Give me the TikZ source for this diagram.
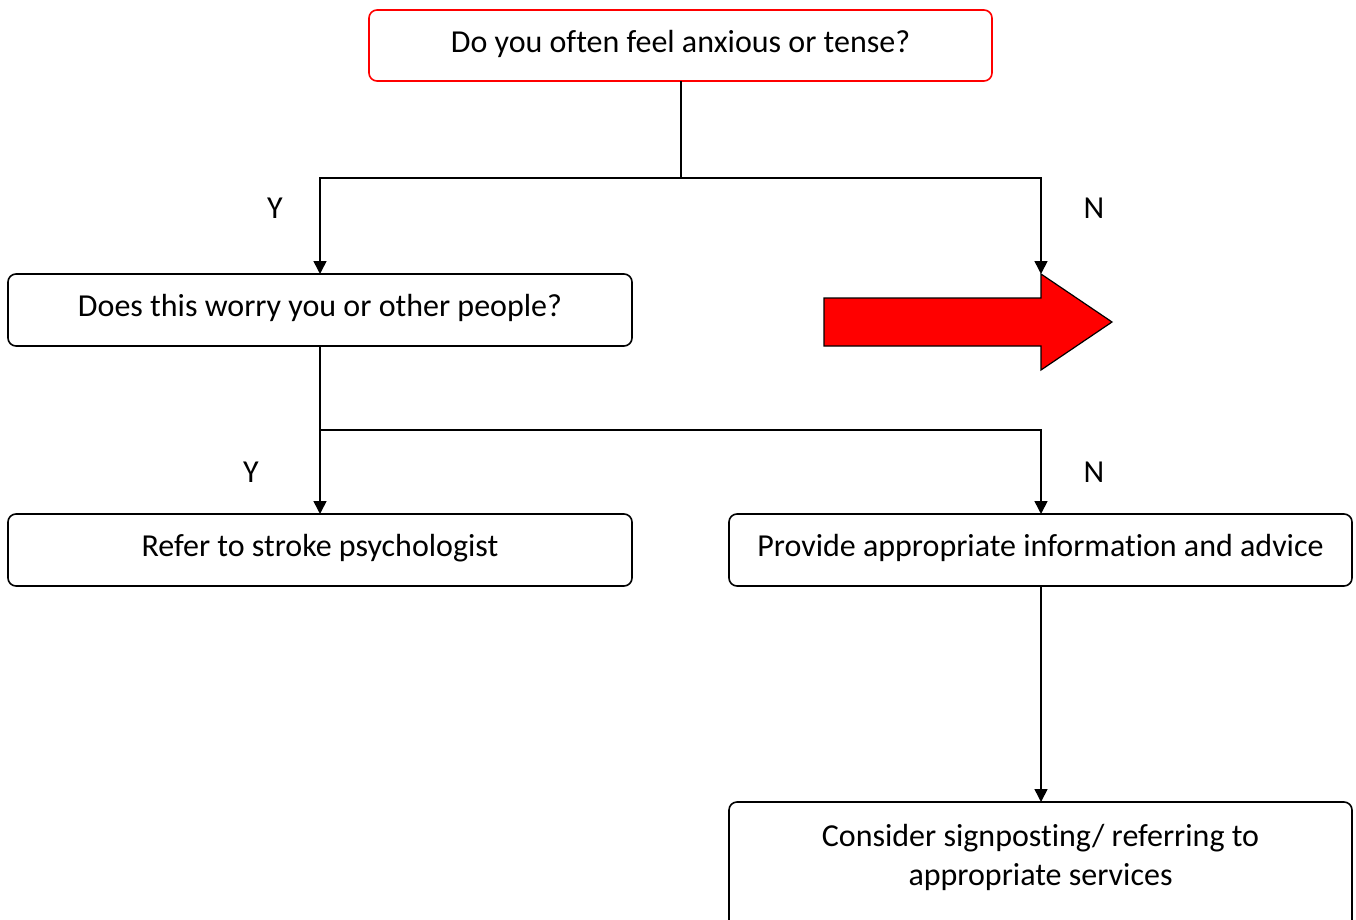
\documentclass[tikz,border=0pt]{standalone}
\usepackage{fontspec}
\setmainfont{Carlito}[Ligatures=NoCommon]
\usetikzlibrary{arrows.meta}
\begin{document}
\begin{tikzpicture}[x=1pt,y=-1pt,
  box/.style={draw=black,line width=1.6pt,rounded corners=8pt,fill=white},
  redbox/.style={box,draw=red},
  conn/.style={line width=1.6pt},
  arr/.style={conn,-{Triangle[length=13pt,width=13pt]}},
  lbl/.style={font=\fontsize{32}{38}\selectfont},
  txt/.style={font=\fontsize{32}{39}\selectfont,align=center}]
\useasboundingbox (0,0) rectangle (1356,920);
% boxes
\draw[redbox] (369,10) rectangle (992,81);
\node[txt] (q1) at (680.5,44) {Do you often feel anxious or tense?};
\coordinate (q1b) at (681,81);
\draw[box] (8,274) rectangle (632,346);
\node[txt] (q2) at (320,308) {Does this worry you or other people?};
\coordinate (q2t) at (320,274);
\coordinate (q2b) at (320,346);
\draw[box] (8,514) rectangle (632,586);
\node[txt] (r1) at (320,548) {Refer to stroke psychologist};
\coordinate (r1t) at (320,514);
\draw[box] (729,514) rectangle (1352,586);
\node[txt] (r2) at (1040.5,548) {Provide appropriate information and advice};
\coordinate (r2t) at (1041,514);
\coordinate (r2b) at (1041,586);
\draw[box] (729,802) rectangle (1352,935);
\node[txt] (r3) at (1040.5,857) {Consider signposting/ referring to\\appropriate services};
\coordinate (r3t) at (1041,802);
% red arrow
\draw[line width=1.2pt,fill=red] (824,298) -- (1041,298) -- (1041,274) -- (1112,322) -- (1041,370) -- (1041,346) -- (824,346) -- cycle;
\coordinate (ra) at (1041,274);
% connectors
\coordinate (j1) at (681,178);
\draw[conn] (q1b) -- (j1);
\draw[arr] (j1) -| (q2t);
\draw[arr] (j1) -| (ra);
\coordinate (j2) at (320,430);
\draw[conn] (q2b) -- (j2);
\draw[arr] (j2) -- (r1t);
\draw[arr] (j2) -| (r2t);
\draw[arr] (r2b) -- (r3t);
% labels
\node[lbl] (y1) at (275,208) {Y};
\node[lbl] (n1) at (1094,208) {N};
\node[lbl] (y2) at (251,472) {Y};
\node[lbl] (n2) at (1094,472) {N};
\end{tikzpicture}
\end{document}
